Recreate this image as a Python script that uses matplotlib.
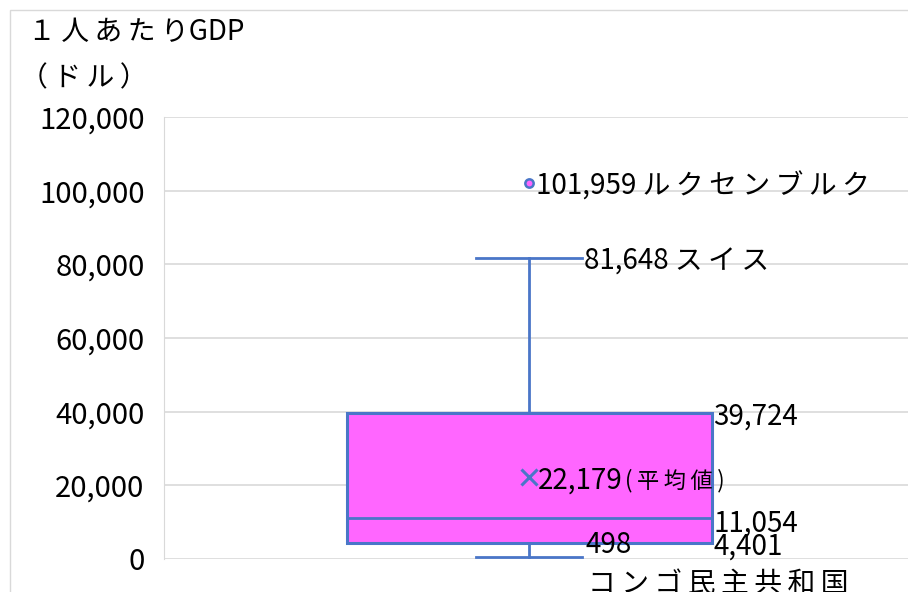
import matplotlib
matplotlib.use("Agg")
import matplotlib.pyplot as plt
from matplotlib.patches import Rectangle

plt.rcParams['font.family'] = ['Noto Sans CJK JP', 'DejaVu Sans']

# Five-number summary of GDP per capita (USD)
stats_min = 498
stats_q1 = 4401
stats_median = 11054
stats_q3 = 39724
stats_max = 81648
stats_mean = 22179
outlier_value = 101959

outlier_name = "ルクセンブルク"
max_name = "スイス"
min_name = "コンゴ民主共和国"
mean_name = "(平均値)"

y_ticks = [0, 20000, 40000, 60000, 80000, 100000, 120000]

BLUE = "#4A76C8"
MAGENTA = "#FF66FF"
GRID = "#D9D9D9"


def spaced(s):
    # the original font sets Japanese with wide letter spacing
    return "\u2009".join(s)


fig = plt.figure(figsize=(9.08, 5.92), dpi=100)
ax = fig.add_axes([164 / 908, 1 - 559 / 592, 744 / 908, 442 / 592])

# outer chart frame
fig.patches.append(Rectangle((10 / 908, -0.1), 1.2, 1 - 10 / 592 + 0.1,
                             transform=fig.transFigure, fill=False,
                             edgecolor=GRID, linewidth=1.0))

box = dict(med=stats_median, q1=stats_q1, q3=stats_q3, whislo=stats_min,
           whishi=stats_max, mean=stats_mean, fliers=[outlier_value])
ax.bxp([box], positions=[1], widths=1.0, patch_artist=True, showmeans=True,
       capwidths=0.29,
       boxprops=dict(facecolor=MAGENTA, edgecolor=BLUE, linewidth=2.2),
       medianprops=dict(color=BLUE, linewidth=2.0),
       whiskerprops=dict(color=BLUE, linewidth=2.0),
       capprops=dict(color=BLUE, linewidth=2.0),
       meanprops=dict(marker='x', markeredgecolor=BLUE, markersize=11,
                      markeredgewidth=2.2),
       flierprops=dict(marker='o', markerfacecolor=MAGENTA,
                       markeredgecolor=BLUE, markersize=6, markeredgewidth=1.8))

ax.set_xlim(0, 2.0356)
ax.set_ylim(0, 120000)
ax.set_yticks(y_ticks)
ax.set_yticklabels([f"{v:,}" for v in y_ticks], fontsize=21)
ax.tick_params(axis='y', length=0, pad=14)
ax.set_xticks([])
ax.grid(axis='y', color=GRID, linewidth=1.2)
ax.set_axisbelow(True)
for s in ['top', 'right', 'bottom']:
    ax.spines[s].set_visible(False)
ax.spines['left'].set_color(GRID)

fs = 20
right_x = 1.5
dy = -2.5
ax.annotate(f"{outlier_value:,} {spaced(outlier_name)}", xy=(1, outlier_value),
            xytext=(5, dy), textcoords='offset points', va='center', fontsize=fs)
ax.annotate(f"{stats_max:,} {spaced(max_name)}", xy=(1.145, stats_max),
            xytext=(1, dy), textcoords='offset points', va='center', fontsize=fs)
ax.annotate(f"{stats_q3:,}", xy=(right_x, stats_q3), xytext=(1, dy - 0.5),
            textcoords='offset points', va='center', fontsize=fs)
t_mean = ax.annotate(f"{stats_mean:,}", xy=(1, stats_mean), xytext=(6, dy),
                     textcoords='offset points', va='center', fontsize=fs)
ax.annotate(spaced(mean_name), xy=(1, 0.5), xycoords=t_mean, xytext=(2, 0),
            textcoords='offset points', va='center', fontsize=16)
ax.annotate(f"{stats_median:,}", xy=(right_x, stats_median), xytext=(1, dy - 1),
            textcoords='offset points', va='center', fontsize=fs)
ax.annotate(f"{stats_q1:,}", xy=(right_x, stats_q1), xytext=(1, dy - 0.5),
            textcoords='offset points', va='center', fontsize=fs)
ax.annotate(f"{stats_min:,}", xy=(1.145, stats_min), xytext=(2, 8.5),
            textcoords='offset points', va='center', fontsize=fs)
ax.annotate(spaced(min_name), xy=(1.145, stats_min), xytext=(4, -19),
            textcoords='offset points', va='center', fontsize=fs,
            annotation_clip=False)

fig.text(28 / 908, 1 - 32 / 592, "１" + "\u2009" + spaced("人あたり") + "GDP",
         fontsize=20, va='center')
fig.text(20 / 908, 1 - 78 / 592, spaced("（ドル）"), fontsize=20, va='center')

fig.savefig("out.png", dpi=100)
